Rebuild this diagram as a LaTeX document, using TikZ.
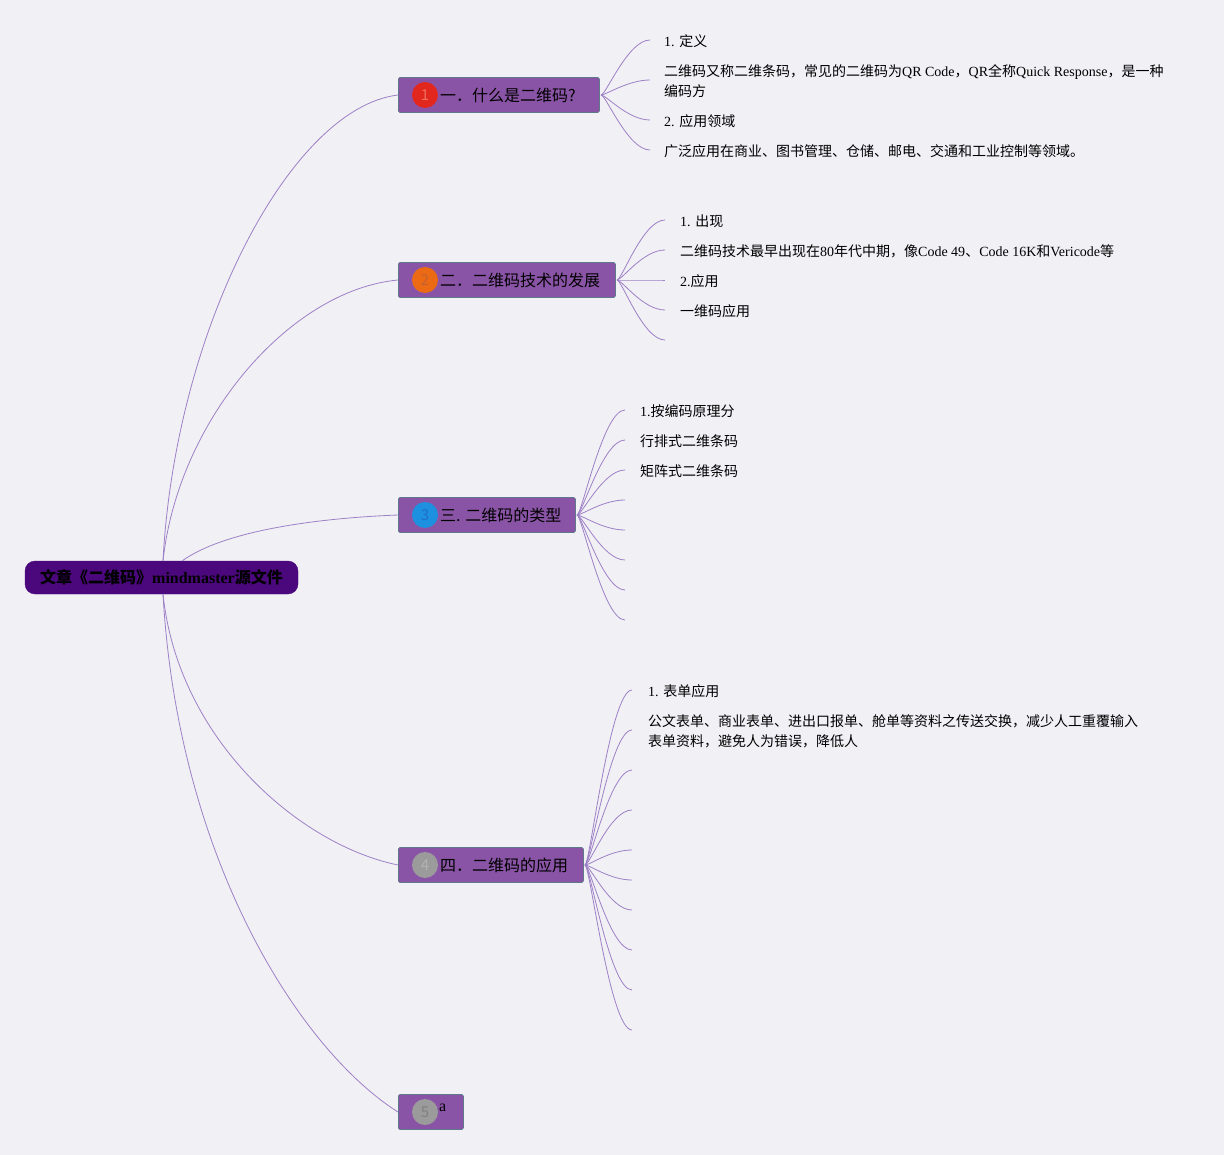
\documentclass[tikz,border=0pt]{standalone}
\usepackage{fontspec}
\setmainfont{Liberation Serif}
\newfontfamily\cjk{Noto Sans CJK SC}
\newcommand\zh[1]{{\cjk #1}}
\definecolor{bgc}{RGB}{241,240,245}
\definecolor{rootc}{RGB}{75,8,125}
\definecolor{mainc}{RGB}{138,84,166}
\definecolor{mainb}{RGB}{96,120,140}
\definecolor{linec}{RGB}{158,128,198}
\definecolor{c1}{RGB}{226,40,30}\definecolor{d1}{RGB}{240,110,95}
\definecolor{c2}{RGB}{236,106,20}\definecolor{d2}{RGB}{196,96,50}
\definecolor{c3}{RGB}{30,144,224}\definecolor{d3}{RGB}{30,110,200}
\definecolor{c4}{RGB}{155,155,155}\definecolor{d4}{RGB}{178,178,178}
\definecolor{d5}{RGB}{128,128,128}
\tikzset{
  rootbox/.style={draw=rootc,fill=rootc,rounded corners=10pt,minimum width=273pt,minimum height=33pt,inner sep=0pt,font=\fontsize{16}{19}\selectfont\bfseries},
  mainbox/.style={draw=mainb,line width=0.8pt,fill=mainc,rounded corners=1.5pt,minimum height=35pt,inner sep=0pt,anchor=west},
  numc/.style={circle,minimum size=26pt,inner sep=0pt,font=\cjk\fontsize{15}{15}\selectfont},
  maintxt/.style={anchor=west,inner sep=0pt,font=\cjk\fontsize{16}{19}\selectfont},
  leaftxt/.style={anchor=west,inner sep=0pt,align=left,font=\fontsize{14}{20}\selectfont},
  conn/.style={draw=linec,line width=0.8pt},
}
\begin{document}
\begin{tikzpicture}[x=1pt,y=-1pt]
\fill[bgc] (0,0) rectangle (1224,1155);
\useasboundingbox (0,0) rectangle (1224,1155);

% root
\node[rootbox] (root) at (161.5,577.5) {\zh{文章《二维码》}mindmaster\zh{源文件}};
\coordinate (rt) at (163,561);
\coordinate (rt3) at (182,561);
\coordinate (rb) at (163,594);

% main nodes
\node[mainbox,minimum width=201pt] (m1) at (398,95) {};
\node[mainbox,minimum width=217pt] (m2) at (398,280) {};
\node[mainbox,minimum width=177pt] (m3) at (398,515) {};
\node[mainbox,minimum width=185pt] (m4) at (398,865) {};
\node[mainbox,minimum width=65pt] (m5) at (398,1112) {};

\node[numc,fill=c1,text=d1] (n1) at (425,95) {1};
\node[numc,fill=c2,text=d2] (n2) at (425,280) {2};
\node[numc,fill=c3,text=d3] (n3) at (425,515) {3};
\node[numc,fill=c4,text=d4] (n4) at (425,865) {4};
\node[numc,fill=c4,text=d5] (n5) at (425,1112) {5};

\node[maintxt] (t1) at (440,95) {一．什么是二维码?};
\node[maintxt] (t2) at (440,280) {二．二维码技术的发展};
\node[maintxt] (t3) at (440,515) {三. 二维码的类型};
\node[maintxt] (t4) at (440,865) {四．二维码的应用};
\node[anchor=west,inner sep=0pt,font=\fontsize{16}{19}\selectfont] (t5) at (439,1108) {a};

% root connectors
\draw[conn] (rt) .. controls (175,330) and (290,108) .. (m1.west);
\draw[conn] (rt) .. controls (178,420) and (290,290) .. (m2.west);
\draw[conn] (rt3) .. controls (225,530) and (320,518) .. (m3.west);
\draw[conn] (rb) .. controls (178,740) and (300,845) .. (m4.west);
\draw[conn] (rb) .. controls (178,860) and (300,1050) .. (m5.west);

% branch 1
\coordinate (o1) at (601,95);
\foreach \y/\n in {40/a,80/b,120/c,150/d}{
  \coordinate (l1\n) at (650,\y);
  \draw[conn] (o1) .. controls +(5,0) and +(-22,0) .. (l1\n);
}
\node[leaftxt] (x1a) at (664,41) {1. \zh{定义}};
\node[leaftxt] (x1b) at (664,81) {\zh{二维码又称二维条码，常见的二维码为}QR Code\zh{，}QR\zh{全称}Quick Response\zh{，是一种}\\\zh{编码方}};
\node[leaftxt] (x1c) at (664,121) {2. \zh{应用领域}};
\node[leaftxt] (x1d) at (664,151) {\zh{广泛应用在商业、图书管理、仓储、邮电、交通和工业控制等领域。}};

% branch 2
\coordinate (o2) at (617,280);
\foreach \y/\n in {220/a,250/b,280/c,310/d,340/e}{
  \coordinate (l2\n) at (665,\y);
  \draw[conn] (o2) .. controls +(5,0) and +(-22,0) .. (l2\n);
}
\node[leaftxt] (x2a) at (680,221) {1. \zh{出现}};
\node[leaftxt] (x2b) at (680,251) {\zh{二维码技术最早出现在}80\zh{年代中期，像}Code 49\zh{、}Code 16K\zh{和}Vericode\zh{等}};
\node[leaftxt] (x2c) at (680,281) {2.\zh{应用}};
\node[leaftxt] (x2d) at (680,311) {\zh{一维码应用}};

% branch 3
\coordinate (o3) at (577,515);
\foreach \y/\n in {410/a,440/b,470/c,500/d,530/e,560/f,590/g,620/h}{
  \coordinate (l3\n) at (625,\y);
  \draw[conn] (o3) .. controls +(5,0) and +(-22,0) .. (l3\n);
}
\node[leaftxt] (x3a) at (640,411) {1.\zh{按编码原理分}};
\node[leaftxt] (x3b) at (640,441) {\zh{行排式二维条码}};
\node[leaftxt] (x3c) at (640,471) {\zh{矩阵式二维条码}};

% branch 4
\coordinate (o4) at (585,865);
\foreach \y/\n in {690/a,730/b,770/c,810/d,850/e,880/f,910/g,950/h,990/i,1030/j}{
  \coordinate (l4\n) at (632,\y);
  \draw[conn] (o4) .. controls +(5,0) and +(-22,0) .. (l4\n);
}
\node[leaftxt] (x4a) at (648,691) {1. \zh{表单应用}};
\node[leaftxt] (x4b) at (648,731) {\zh{公文表单、商业表单、进出口报单、舱单等资料之传送交换，减少人工重覆输入}\\\zh{表单资料，避免人为错误，降低人}};
\end{tikzpicture}
\end{document}
